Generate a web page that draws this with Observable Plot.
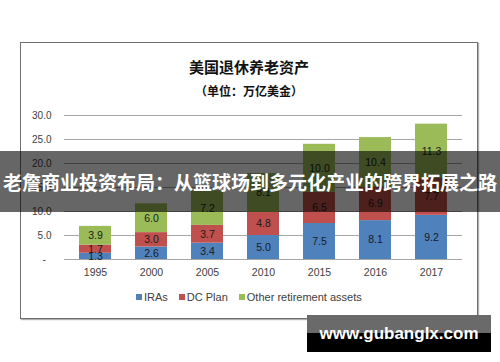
<!DOCTYPE html>
<html>
<head>
<meta charset="utf-8">
<script src="https://cdn.jsdelivr.net/npm/d3@7"></script>
<script src="https://cdn.jsdelivr.net/npm/@observablehq/plot@0.6"></script>
<style>
  html, body { margin: 0; padding: 0; background: #fff; }
  #root { position: relative; width: 500px; height: 362px; overflow: hidden; font-family: "Liberation Sans", Arial, sans-serif; }
  #frame { position: absolute; left: 20px; top: 42px; width: 456px; height: 275px; border: 1.5px solid #6f6f6f; box-shadow: 1px 1px 1px #b0b0b0; background: #fff; }
  #chart { position: absolute; left: 0; top: 0; }
  .title { position: absolute; left: 20px; width: 458px; text-align: center; font-family: "Noto Sans CJK SC", sans-serif; font-weight: bold; color: #111; }
  #t1 { top: 57px; font-size: 15px; line-height: 20px; }
  #t2 { top: 82px; font-size: 12px; line-height: 18px; }
  #legend { position: absolute; top: 291px; left: 136px; font-size: 11px; color: #404040; display: flex; gap: 0; white-space: nowrap; }
  #legend span.item { display: inline-flex; align-items: center; margin-right: 11px; }
  #legend i { display: inline-block; width: 6px; height: 6px; margin-right: 2px; }
  #banner { position: absolute; left: 0; top: 151px; width: 500px; height: 61px; background: rgba(0,0,0,0.6); color: #fff; font-family: "Noto Sans CJK SC", sans-serif; font-weight: bold; font-size: 19px; line-height: 61px; text-align: center; white-space: nowrap; }
  #wm { position: absolute; left: 307px; top: 315px; width: 184px; height: 37px; background: linear-gradient(#6a6a6a 0%, #6a6a6a 50%, #000 50%, #000 100%); color: #fff; font-family: "Liberation Sans", Arial, sans-serif; font-weight: bold; font-size: 17px; line-height: 37px; text-align: center; white-space: nowrap; }
</style>
</head>
<body>
<div id="root">
  <div id="frame"></div>
  <div id="chart"></div>
  <div class="title" id="t1">美国退休养老资产</div>
  <div class="title" id="t2">（单位：万亿美金）</div>
  <div id="legend"></div>
  <div id="banner">老詹商业投资布局：从篮球场到多元化产业的跨界拓展之路</div>
  <div id="wm">www.gubanglx.com</div>
</div>
<script>
const years = ["1995", "2000", "2005", "2010", "2015", "2016", "2017"];
const seriesNames = ["IRAs", "DC Plan", "Other retirement assets"];
const iras = [1.3, 2.6, 3.4, 5.0, 7.5, 8.1, 9.2];
const dcPlan = [1.7, 3.0, 3.7, 4.8, 6.5, 6.9, 7.7];
const other = [3.9, 6.0, 7.2, 8.1, 10.0, 10.4, 11.3];
const seriesColors = ["#4f81bd", "#c0504d", "#9bbb59"];
const yTicks = [0, 5, 10, 15, 20, 25, 30];

const seriesValues = [iras, dcPlan, other];
const rows = [];
seriesNames.forEach((s, si) => {
  years.forEach((yr, i) => rows.push({ year: yr, series: s, value: seriesValues[si][i] }));
});

const plot = Plot.plot({
  width: 500,
  height: 362,
  marginLeft: 64,
  marginRight: 38,
  marginTop: 115,
  marginBottom: 103,
  style: { background: "transparent", fontFamily: "Liberation Sans, Arial, sans-serif", fontSize: "10px", color: "#404040" },
  x: { domain: years, paddingInner: 0.42, paddingOuter: 0.21, label: null },
  y: { domain: [0, 30], label: null },
  color: { domain: seriesNames, range: seriesColors },
  marks: [
    Plot.ruleY(yTicks, { stroke: "#a6a6a6", strokeWidth: 1 }),
    Plot.barY(rows, Plot.stackY({ x: "year", y: "value", z: "series", fill: "series", order: seriesNames })),
    Plot.text(rows, Plot.stackY({ x: "year", y: "value", z: "series", order: seriesNames, text: d => d.value.toFixed(1), fill: "#1a1a1a", fontSize: 10.5 })),
    Plot.axisY({ ticks: yTicks.filter(d => d !== 0), tickFormat: d => d.toFixed(1), tickSize: 0, tickPadding: 13, label: null, fontSize: 10, fill: "#404040" }),
    Plot.text([0], { y: d => d, text: () => "-", frameAnchor: "left", dx: -22, fontSize: 10, fill: "#404040" }),
    Plot.axisX({ tickSize: 0, tickPadding: 9, label: null, fontSize: 10.5, fill: "#404040" })
  ]
});
document.getElementById("chart").appendChild(plot);

const legend = document.getElementById("legend");
seriesNames.forEach((s, i) => {
  const item = document.createElement("span");
  item.className = "item";
  const sw = document.createElement("i");
  sw.style.background = seriesColors[i];
  item.appendChild(sw);
  item.appendChild(document.createTextNode(s));
  legend.appendChild(item);
});
</script>
</body>
</html>
